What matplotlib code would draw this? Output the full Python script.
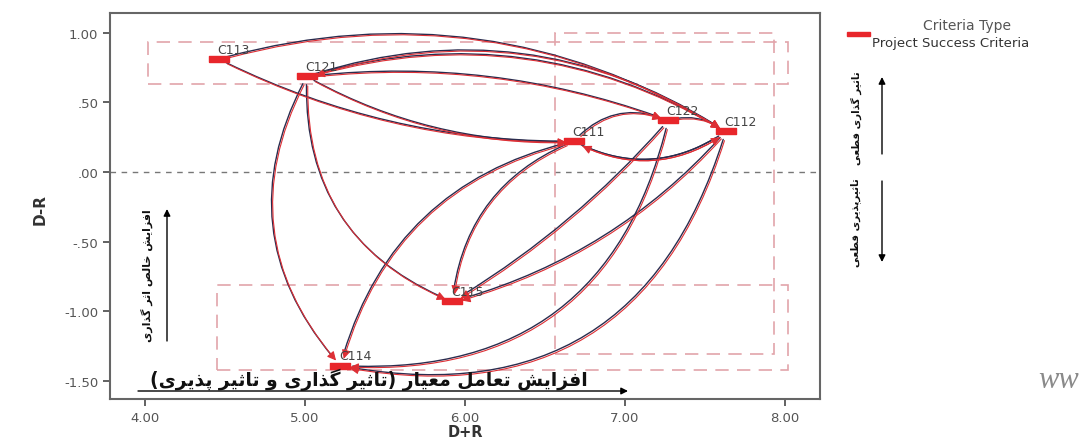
import matplotlib
matplotlib.use("Agg")
import matplotlib.pyplot as plt
import matplotlib.transforms as mtransforms
from matplotlib.patches import FancyArrowPatch, Rectangle
from matplotlib.ticker import FuncFormatter

# criteria positions: prominence (D+R) and relation (D-R)
names = ["C111", "C112", "C113", "C114", "C115", "C121", "C122"]
d_plus_r = [6.68, 7.63, 4.46, 5.22, 5.92, 5.01, 7.27]
d_minus_r = [0.22, 0.29, 0.81, -1.39, -0.93, 0.685, 0.37]

# influence links (source -> target) and how much each one bends
edge_src = ["C113", "C121", "C112", "C121", "C113", "C121", "C121", "C121", "C111",
            "C111", "C122", "C112", "C122", "C112", "C111", "C122", "C112", "C111"]
edge_dst = ["C112", "C112", "C121", "C122", "C111", "C111", "C114", "C115", "C115",
            "C114", "C115", "C115", "C114", "C114", "C122", "C112", "C111", "C112"]
edge_rad = [-0.22, -0.24, 0.22, -0.12, 0.12, 0.14, 0.35, 0.35, 0.3,
            0.3, -0.08, -0.15, -0.42, -0.45, -0.35, -0.25, -0.3, 0.3]

# cluster boxes: (x0, x1, y0, y1)
box_top = (4.02, 8.02, 0.63, 0.935)
box_right = (6.56, 7.93, -1.31, 1.0)
box_bottom = (4.45, 8.02, -1.42, -0.81)

x_ticks = [4, 5, 6, 7, 8]
y_ticks = [1.0, 0.5, 0.0, -0.5, -1.0, -1.5]

txt_bottom = "افزایش تعامل معیار (تاثیر گذاری و تاثیر پذیری)"
txt_left = "افزایش خالص اثر گذاری"
txt_up = "تاثیر گذاری قطعی"
txt_down = "تاثیرپذیری قطعی"

# Arabic presentation forms: isolated, final, initial, medial
FORMS = {
    "\u0627": ("\uFE8D", "\uFE8E", None, None),
    "\u067E": ("\uFB56", "\uFB57", "\uFB58", "\uFB59"),
    "\u062A": ("\uFE95", "\uFE96", "\uFE97", "\uFE98"),
    "\u062B": ("\uFE99", "\uFE9A", "\uFE9B", "\uFE9C"),
    "\u062E": ("\uFEA5", "\uFEA6", "\uFEA7", "\uFEA8"),
    "\u062F": ("\uFEA9", "\uFEAA", None, None),
    "\u0630": ("\uFEAB", "\uFEAC", None, None),
    "\u0631": ("\uFEAD", "\uFEAE", None, None),
    "\u0632": ("\uFEAF", "\uFEB0", None, None),
    "\u0634": ("\uFEB5", "\uFEB6", "\uFEB7", "\uFEB8"),
    "\u0635": ("\uFEB9", "\uFEBA", "\uFEBB", "\uFEBC"),
    "\u0637": ("\uFEC1", "\uFEC2", "\uFEC3", "\uFEC4"),
    "\u0639": ("\uFEC9", "\uFECA", "\uFECB", "\uFECC"),
    "\u0641": ("\uFED1", "\uFED2", "\uFED3", "\uFED4"),
    "\u0642": ("\uFED5", "\uFED6", "\uFED7", "\uFED8"),
    "\u06AF": ("\uFB92", "\uFB93", "\uFB94", "\uFB95"),
    "\u0644": ("\uFEDD", "\uFEDE", "\uFEDF", "\uFEE0"),
    "\u0645": ("\uFEE1", "\uFEE2", "\uFEE3", "\uFEE4"),
    "\u0648": ("\uFEED", "\uFEEE", None, None),
    "\u06CC": ("\uFBFC", "\uFBFD", "\uFBFE", "\uFBFF"),
    "\u064A": ("\uFBFC", "\uFBFD", "\uFBFE", "\uFBFF"),
}


def shape(text):
    out = []
    for i, ch in enumerate(text):
        f = FORMS.get(ch)
        if f is None:
            out.append(ch)
            continue
        prev = text[i - 1] if i > 0 else ""
        nxt = text[i + 1] if i < len(text) - 1 else ""
        jp = prev in FORMS and FORMS[prev][2] is not None
        jn = nxt in FORMS and f[2] is not None
        if jp and jn:
            out.append(f[3])
        elif jp:
            out.append(f[1])
        elif jn:
            out.append(f[2])
        else:
            out.append(f[0])
    return "".join(out)[::-1].translate(str.maketrans("()", ")("))


W, H = 1082, 439
fig = plt.figure(figsize=(W / 100, H / 100), dpi=100)
ax = fig.add_axes([110 / W, 39 / H, 710 / W, 386 / H])

grey = "#555555"
navy = "#2a2c4e"
red = "#dd2f35"
pink = "#e2a4aa"

ax.set_xlim(3.78, 8.22)
ax.set_ylim(-1.63, 1.14)
ax.set_xticks(x_ticks)
ax.set_yticks(y_ticks)


def fmt(v, _):
    s = f"{v:.2f}"
    return s.replace("0.", ".", 1) if s.lstrip("-").startswith("0.") else s


ax.xaxis.set_major_formatter(FuncFormatter(fmt))
ax.yaxis.set_major_formatter(FuncFormatter(fmt))
ax.tick_params(direction="out", length=5, width=1.3, color=grey,
               labelcolor=grey, labelsize=9.5)
for sp in ax.spines.values():
    sp.set_color("#666666")
    sp.set_linewidth(1.5)
fig.text(465 / W, 1 - 433 / H, "D+R", ha="center", va="center", fontsize=10.5,
         fontweight="bold", color="#333333")
fig.text(40 / W, 1 - 210 / H, "D-R", ha="center", va="center", rotation=90,
         fontsize=11, fontweight="bold", color="#333333")

ax.axhline(0, color="#777777", lw=1, ls=(0, (4, 4)), zorder=1)

for x0, x1, y0, y1 in [box_top, box_right, box_bottom]:
    ax.add_patch(Rectangle((x0, y0), x1 - x0, y1 - y0, fill=False, ec=pink,
                           lw=1.2, ls=(0, (8, 5)), zorder=1))

pos = {n: (x, y) for n, x, y in zip(names, d_plus_r, d_minus_r)}
red_tr = mtransforms.offset_copy(ax.transData, fig=fig, x=0.9, y=-0.9, units="points")
for s, d, r in zip(edge_src, edge_dst, edge_rad):
    cs = f"arc3,rad={r}"
    ax.add_patch(FancyArrowPatch(pos[s], pos[d], connectionstyle=cs, arrowstyle="-",
                                 color=navy, lw=1.0, shrinkA=6, shrinkB=9, zorder=2))
    ax.add_patch(FancyArrowPatch(pos[s], pos[d], connectionstyle=cs, arrowstyle="-|>",
                                 mutation_scale=13, color=red, lw=0.8, shrinkA=6,
                                 shrinkB=6, transform=red_tr, zorder=3))

bar = [(-1.6, -0.5), (1.6, -0.5), (1.6, 0.5), (-1.6, 0.5), (-1.6, -0.5)]
ax.plot(d_plus_r, d_minus_r, ls="none", marker=bar, ms=14.5, color="#e8262b",
        mec="#e8262b", zorder=4)
for n in names:
    ax.annotate(n, pos[n], xytext=(-1, 7), textcoords="offset points", ha="left",
                va="center", fontsize=9, color="#444444", zorder=5)

# legend
fig.text(967 / W, 1 - 26 / H, "Criteria Type", ha="center", va="center",
         fontsize=10, color=grey)
fig.add_artist(Rectangle((847 / W, 1 - 37 / H), 23 / W, 4 / H,
                         transform=fig.transFigure, color="#e8262b"))
fig.text(872 / W, 1 - 43 / H, "Project Success Criteria", ha="left", va="center",
         fontsize=9.5, color="#333333")


def arrow(p0, p1):
    fig.add_artist(FancyArrowPatch((p0[0] / W, 1 - p0[1] / H), (p1[0] / W, 1 - p1[1] / H),
                                   transform=fig.transFigure, arrowstyle="-|>",
                                   mutation_scale=10, color="black", lw=1.0,
                                   shrinkA=0, shrinkB=0))


pfont = dict(family="DejaVu Sans", fontweight="bold", color="#111111")
arrow((138, 392), (628, 392))
fig.text(369 / W, 1 - 380 / H, shape(txt_bottom), ha="center", va="center",
         fontsize=13.5, **pfont)
arrow((167, 342), (167, 210))
fig.text(147 / W, 1 - 276 / H, shape(txt_left), ha="center", va="center",
         rotation=90, fontsize=8, **pfont)
arrow((882, 155), (882, 78))
fig.text(856 / W, 1 - 118 / H, shape(txt_up), ha="center", va="center",
         rotation=90, fontsize=7.5, **pfont)
arrow((882, 182), (882, 263))
fig.text(856 / W, 1 - 223 / H, shape(txt_down), ha="center", va="center",
         rotation=90, fontsize=7.5, **pfont)

fig.text(1038 / W, 1 - 388 / H, "ww", fontsize=22, family="Liberation Serif",
         style="italic", color="#8a8a8a")

fig.savefig("out.png", dpi=100)
